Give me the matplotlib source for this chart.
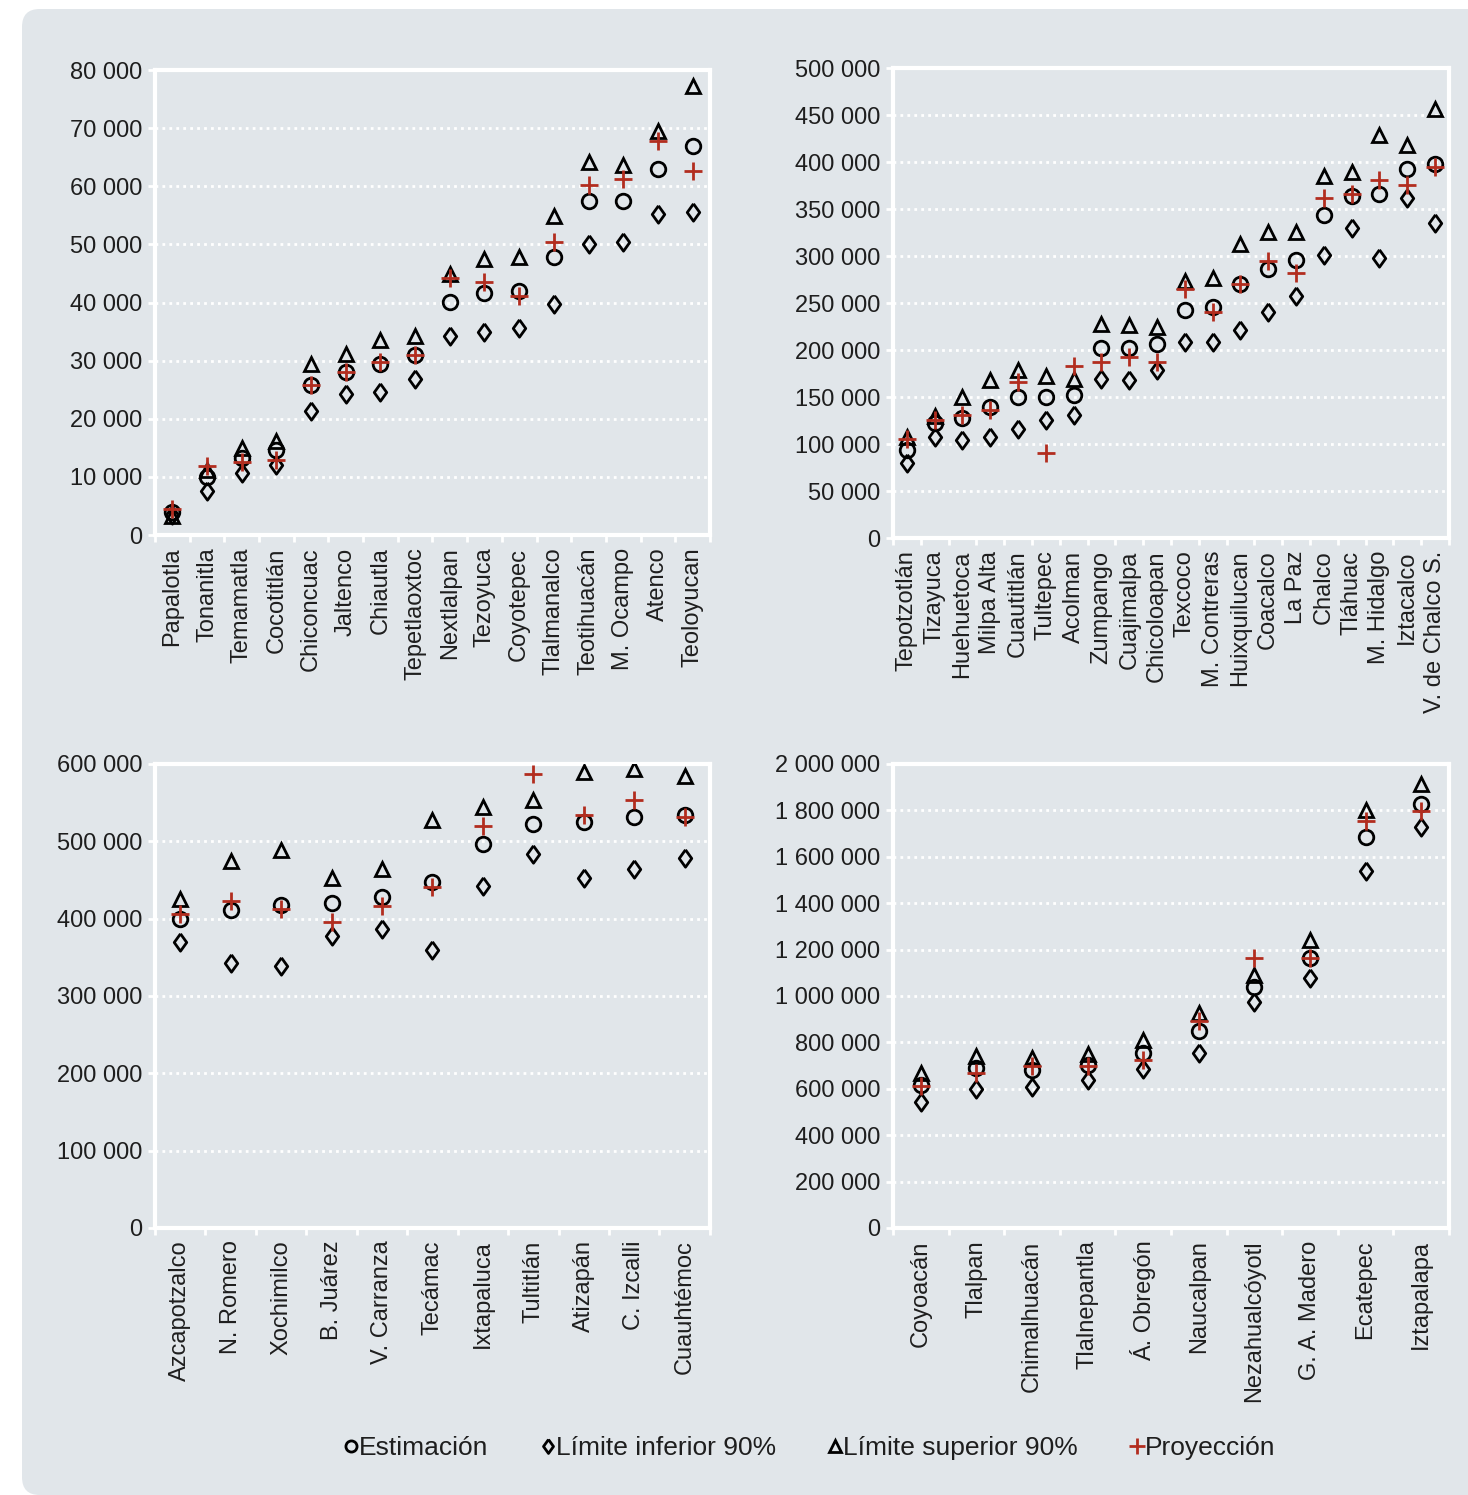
import matplotlib
matplotlib.use("Agg")
import matplotlib.pyplot as plt
from matplotlib.patches import FancyBboxPatch
from matplotlib.lines import Line2D
from matplotlib.ticker import FuncFormatter, MultipleLocator

# --- datos (miles de habitantes) ---
mun_a = ["Papalotla", "Tonanitla", "Temamatla", "Cocotitlán", "Chiconcuac", "Jaltenco",
         "Chiautla", "Tepetlaoxtoc", "Nextlalpan", "Tezoyuca", "Coyotepec", "Tlalmanalco",
         "Teotihuacán", "M. Ocampo", "Atenco", "Teoloyucan"]
est_a = [4.0, 10.0, 13.2, 14.6, 25.8, 28.0, 29.4, 31.0, 40.1, 41.6, 42.0, 47.8, 57.5, 57.5, 63.0, 67.0]
inf_a = [3.5, 7.6, 10.6, 12.0, 21.3, 24.3, 24.7, 26.8, 34.3, 35.0, 35.7, 39.7, 50.1, 50.5, 55.2, 55.6]
sup_a = [3.3, 11.2, 15.0, 16.2, 29.4, 31.2, 33.5, 34.2, 45.0, 47.5, 47.8, 54.9, 64.2, 63.6, 69.6, 77.3]
pro_a = [4.5, 11.8, 12.5, 12.9, 25.8, 28.0, 29.8, 31.0, 44.2, 43.6, 41.2, 50.5, 60.2, 61.2, 67.8, 62.6]

mun_b = ["Tepotzotlán", "Tizayuca", "Huehuetoca", "Milpa Alta", "Cuautitlán", "Tultepec",
         "Acolman", "Zumpango", "Cuajimalpa", "Chicoloapan", "Texcoco", "M. Contreras",
         "Huixquilucan", "Coacalco", "La Paz", "Chalco", "Tláhuac", "M. Hidalgo",
         "Iztacalco", "V. de Chalco S."]
est_b = [94, 122, 127.5, 139, 150, 150, 152, 202, 202, 206, 243, 246, 270, 286, 295.5, 344, 364, 366, 393, 397.5]
inf_b = [80, 107, 104, 107, 116, 126, 131, 169, 168, 179, 209, 209, 221, 240, 258, 301, 330, 298, 362, 335]
sup_b = [107, 130, 150, 168, 179, 172, 169, 228, 227, 225, 273, 277, 313, 326, 326, 385, 389, 429, 418, 456]
pro_b = [105, 126, 131, 136, 166, 91, 183, 187, 193, 187, 265, 240, 270, 295, 281.5, 362, 366, 381, 376, 395]

mun_c = ["Azcapotzalco", "N. Romero", "Xochimilco", "B. Juárez", "V. Carranza", "Tecámac",
         "Ixtapaluca", "Tultitlán", "Atizapán", "C. Izcalli", "Cuauhtémoc"]
est_c = [400, 411, 418, 420, 428, 448, 497, 522, 525, 531, 534]
inf_c = [370, 342, 339, 378, 386, 359, 442, 483, 453, 464, 479]
sup_c = [425, 475, 489, 453, 464, 528, 544, 553, 590, 593, 584]
pro_c = [406, 423, 413, 395, 416, 441, 520, 587, 534, 554, 532]

mun_d = ["Coyoacán", "Tlalpan", "Chimalhuacán", "Tlalnepantla", "Á. Obregón", "Naucalpan",
         "Nezahualcóyotl", "G. A. Madero", "Ecatepec", "Iztapalapa"]
est_d = [616, 688, 683, 702, 754, 847, 1039, 1164, 1683, 1829]
inf_d = [541, 598, 608, 636, 686, 754, 972, 1079, 1537, 1730]
sup_d = [669, 743, 733, 752, 811, 925, 1089, 1241, 1801, 1915]
pro_d = [612, 666, 700, 698, 723, 890, 1164, 1164, 1754, 1798]

BG = "#E1E6EA"
ROJO = "#B22D1F"
TEXTO = "#1E1E1E"
# rombo algo mas ancho que el 'd' de matplotlib
ROMBO = [(0, 1), (0.72, 0), (0, -1), (-0.72, 0), (0, 1)]

plt.rcParams["font.family"] = ["Liberation Sans", "DejaVu Sans"]

fig = plt.figure(figsize=(14.68, 14.95), dpi=100, facecolor="white")
fondo = FancyBboxPatch((22 / 1468, 0.0), 1.2, (1495 - 9) / 1495 - 0.0,
                       boxstyle="round,pad=0,rounding_size=0.012",
                       transform=fig.transFigure, facecolor=BG, edgecolor="none", zorder=-10)
fig.patches.append(fondo)


def miles(v, pos):
    return f"{int(round(v)):,}".replace(",", " ")


def panel(rect, nombres, est, inf, sup, pro, ymax, paso):
    ax = fig.add_axes(rect)
    ax.set_facecolor("none")
    x = list(range(len(nombres)))
    f = lambda s: [v * 1000 for v in s]
    ax.plot(x, f(est), "o", ms=10.5, mfc="none", mec="black", mew=2, zorder=3)
    ax.plot(x, f(inf), marker=ROMBO, ls="none", ms=12.5, mfc="none", mec="black", mew=2, zorder=3)
    ax.plot(x, f(sup), "^", ms=10.5, mfc="none", mec="black", mew=2, zorder=3)
    ax.plot(x, f(pro), "+", ms=13, mec=ROJO, mew=2, zorder=4)
    ax.set_xlim(-0.5, len(nombres) - 0.5)
    ax.set_ylim(0, ymax)
    ax.yaxis.set_major_locator(MultipleLocator(paso))
    ax.yaxis.set_major_formatter(FuncFormatter(miles))
    ax.set_xticks(x)
    ax.set_xticklabels(nombres, rotation=90, va="top", ha="center")
    ax.set_xticks([i - 0.5 for i in range(len(nombres) + 1)], minor=True)
    ax.tick_params(axis="x", which="major", length=0, pad=9, labelsize=17, colors=TEXTO)
    ax.tick_params(axis="x", which="minor", length=5, width=2, color="white")
    ax.tick_params(axis="y", length=5, width=2, color="white", pad=4, labelsize=17,
                   labelcolor=TEXTO)
    for s in ax.spines.values():
        s.set_color("white")
        s.set_linewidth(3)
    ax.grid(axis="y", color="white", linestyle=(0, (1, 1.5)), linewidth=2, zorder=1)
    ax.set_axisbelow(True)
    return ax


panel([0.1056, 0.6421, 0.378, 0.311], mun_a, est_a, inf_a, sup_a, pro_a, 80000, 10000)
panel([0.6083, 0.6401, 0.3787, 0.3144], mun_b, est_b, inf_b, sup_b, pro_b, 500000, 50000)
panel([0.1056, 0.1786, 0.378, 0.3104], mun_c, est_c, inf_c, sup_c, pro_c, 600000, 100000)
panel([0.6083, 0.1786, 0.3787, 0.3104], mun_d, est_d, inf_d, sup_d, pro_d, 2000000, 200000)

manejadores = [
    Line2D([], [], ls="none", marker="o", ms=8, mfc="none", mec="black", mew=2),
    Line2D([], [], ls="none", marker=ROMBO, ms=10, mfc="none", mec="black", mew=2),
    Line2D([], [], ls="none", marker="^", ms=8, mfc="none", mec="black", mew=2),
    Line2D([], [], ls="none", marker="+", ms=11, mec=ROJO, mew=2),
]
etiquetas = ["Estimación", "Límite inferior 90%", "Límite superior 90%", "Proyección"]
fig.legend(manejadores, etiquetas, loc="center", bbox_to_anchor=(810 / 1468, 1 - 1448 / 1495),
           ncol=4, frameon=False, fontsize=19, handlelength=0.5, handletextpad=0.05,
           columnspacing=2.0, labelcolor=TEXTO)

fig.savefig("out.png", dpi=100, facecolor="white")
